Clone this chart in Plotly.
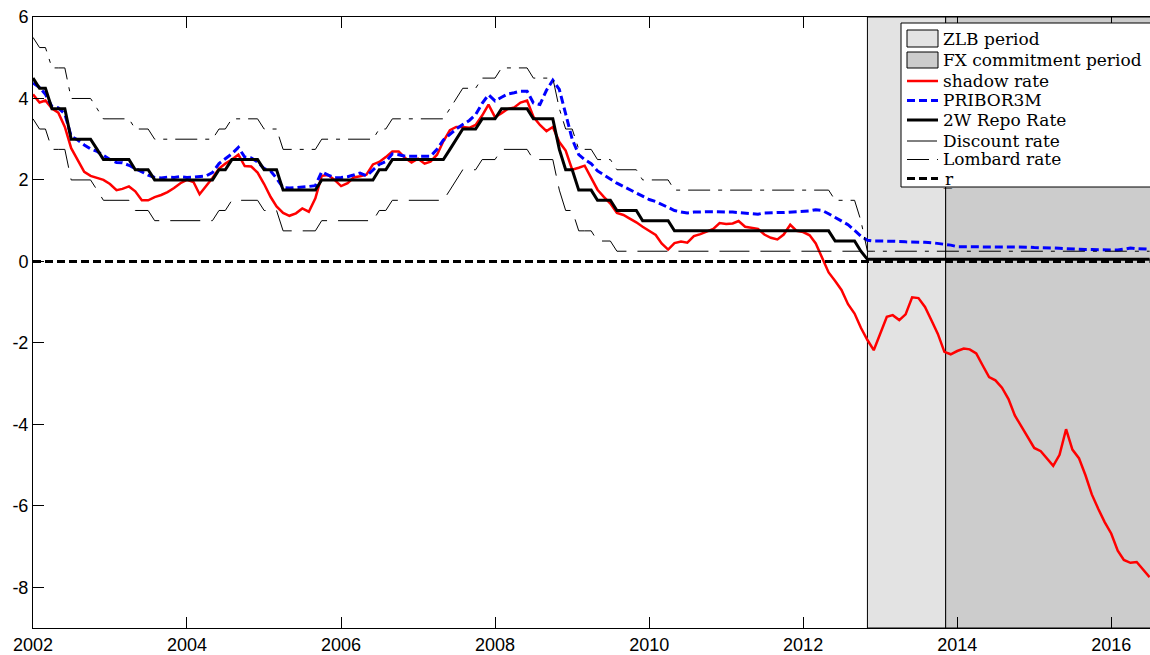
import pandas as pd
import plotly.graph_objects as go

# ---------------- data (monthly, Jan 2002 - Jul 2016) ----------------
start_month = "2002-01-01"
n_months = 175

shadow_rate = [
    4.10, 3.90, 3.95, 3.75, 3.65, 3.30, 2.78, 2.48, 2.20, 2.10, 2.05, 2.00,
    1.90, 1.75, 1.78, 1.84, 1.72, 1.50, 1.50, 1.58, 1.63, 1.70, 1.80, 1.92,
    2.00, 1.95, 1.65, 1.85, 2.05, 2.28, 2.40, 2.50, 2.62, 2.34, 2.33, 2.18,
    1.90, 1.58, 1.35, 1.19, 1.12, 1.18, 1.30, 1.22, 1.55, 2.10, 2.12, 2.00,
    1.85, 1.92, 2.06, 2.09, 2.13, 2.38, 2.44, 2.56, 2.70, 2.70, 2.54, 2.43,
    2.52, 2.40, 2.45, 2.62, 2.95, 3.22, 3.30, 3.30, 3.28, 3.35, 3.58, 3.85,
    3.54, 3.64, 3.74, 3.78, 3.90, 3.95, 3.55, 3.35, 3.20, 3.30, 2.93, 2.72,
    2.25, 2.30, 2.35, 2.05, 1.76, 1.58, 1.42, 1.19, 1.14, 1.05, 0.96, 0.85,
    0.76, 0.65, 0.44, 0.29, 0.45, 0.49, 0.46, 0.62, 0.67, 0.74, 0.80, 0.94,
    0.92, 0.93, 0.99, 0.85, 0.82, 0.80, 0.66, 0.58, 0.54, 0.66, 0.90, 0.75,
    0.72, 0.64, 0.44, 0.09, -0.27, -0.48, -0.70, -1.05, -1.28, -1.63, -1.93, -2.18,
    -1.75, -1.36, -1.32, -1.44, -1.30, -0.88, -0.90, -1.12, -1.45, -1.78, -2.22, -2.28,
    -2.20, -2.14, -2.16, -2.26, -2.55, -2.84, -2.92, -3.10, -3.38, -3.78, -4.05, -4.32,
    -4.58, -4.66, -4.84, -5.02, -4.75, -4.12, -4.62, -4.83, -5.25, -5.72, -6.08, -6.40,
    -6.68, -7.10, -7.33, -7.40, -7.38, -7.56, -7.75,
]

pribor3m = [
    4.38, 4.27, 4.10, 3.80, 3.77, 3.62, 3.07, 2.98, 2.86, 2.76, 2.70, 2.60,
    2.50, 2.43, 2.42, 2.36, 2.28, 2.20, 2.12, 2.06, 2.05, 2.07, 2.06, 2.08,
    2.06, 2.07, 2.08, 2.10, 2.18, 2.40, 2.52, 2.64, 2.80, 2.56, 2.54, 2.44,
    2.28, 2.22, 2.04, 1.81, 1.80, 1.81, 1.82, 1.84, 1.86, 2.20, 2.12, 2.05,
    2.06, 2.08, 2.12, 2.17, 2.10, 2.25, 2.38, 2.45, 2.64, 2.62, 2.58, 2.58,
    2.58, 2.57, 2.58, 2.75, 2.98, 3.12, 3.25, 3.36, 3.46, 3.60, 3.88, 4.09,
    3.94, 4.03, 4.11, 4.14, 4.18, 4.18, 3.89, 3.85, 4.20, 4.45, 4.22, 3.62,
    3.00, 2.62, 2.50, 2.40, 2.22, 2.12, 2.02, 1.92, 1.84, 1.76, 1.68, 1.59,
    1.52, 1.47, 1.40, 1.33, 1.25, 1.21, 1.19, 1.21, 1.22, 1.22, 1.22, 1.22,
    1.22, 1.21, 1.20, 1.19, 1.18, 1.16, 1.19, 1.20, 1.20, 1.20, 1.21, 1.22,
    1.23, 1.24, 1.27, 1.25, 1.17, 1.08, 0.99, 0.90, 0.76, 0.62, 0.52, 0.50,
    0.50, 0.50, 0.49, 0.49, 0.48, 0.48, 0.47, 0.47, 0.46, 0.44, 0.42, 0.40,
    0.36, 0.36, 0.36, 0.36, 0.36, 0.36, 0.36, 0.35, 0.35, 0.35, 0.35, 0.35,
    0.34, 0.34, 0.34, 0.33, 0.32, 0.31, 0.30, 0.29, 0.29, 0.29, 0.29, 0.28,
    0.28, 0.28, 0.30, 0.33, 0.31, 0.30, 0.30,
]

repo_2w = [
    4.50, 4.25, 4.25, 3.75, 3.75, 3.75, 3.00, 3.00, 3.00, 3.00, 2.75, 2.50,
    2.50, 2.50, 2.50, 2.50, 2.25, 2.25, 2.25, 2.00, 2.00, 2.00, 2.00, 2.00,
    2.00, 2.00, 2.00, 2.00, 2.00, 2.25, 2.25, 2.50, 2.50, 2.50, 2.50, 2.50,
    2.25, 2.25, 2.25, 1.75, 1.75, 1.75, 1.75, 1.75, 1.75, 2.00, 2.00, 2.00,
    2.00, 2.00, 2.00, 2.00, 2.00, 2.00, 2.25, 2.25, 2.50, 2.50, 2.50, 2.50,
    2.50, 2.50, 2.50, 2.50, 2.50, 2.75, 3.00, 3.25, 3.25, 3.25, 3.50, 3.50,
    3.50, 3.75, 3.75, 3.75, 3.75, 3.75, 3.50, 3.50, 3.50, 3.50, 2.75, 2.25,
    2.25, 1.75, 1.75, 1.75, 1.50, 1.50, 1.50, 1.25, 1.25, 1.25, 1.25, 1.00,
    1.00, 1.00, 1.00, 1.00, 0.75, 0.75, 0.75, 0.75, 0.75, 0.75, 0.75, 0.75,
    0.75, 0.75, 0.75, 0.75, 0.75, 0.75, 0.75, 0.75, 0.75, 0.75, 0.75, 0.75,
    0.75, 0.75, 0.75, 0.75, 0.75, 0.50, 0.50, 0.50, 0.50, 0.25, 0.05, 0.05,
    0.05, 0.05, 0.05, 0.05, 0.05, 0.05, 0.05, 0.05, 0.05, 0.05, 0.05, 0.05,
    0.05, 0.05, 0.05, 0.05, 0.05, 0.05, 0.05, 0.05, 0.05, 0.05, 0.05, 0.05,
    0.05, 0.05, 0.05, 0.05, 0.05, 0.05, 0.05, 0.05, 0.05, 0.05, 0.05, 0.05,
    0.05, 0.05, 0.05, 0.05, 0.05, 0.05, 0.05,
]

discount_rate = [
    3.50, 3.25, 3.25, 2.75, 2.75, 2.75, 2.00, 2.00, 2.00, 2.00, 1.75, 1.50,
    1.50, 1.50, 1.50, 1.50, 1.25, 1.25, 1.25, 1.00, 1.00, 1.00, 1.00, 1.00,
    1.00, 1.00, 1.00, 1.00, 1.00, 1.25, 1.25, 1.50, 1.50, 1.50, 1.50, 1.50,
    1.25, 1.25, 1.25, 0.75, 0.75, 0.75, 0.75, 0.75, 0.75, 1.00, 1.00, 1.00,
    1.00, 1.00, 1.00, 1.00, 1.00, 1.00, 1.25, 1.25, 1.50, 1.50, 1.50, 1.50,
    1.50, 1.50, 1.50, 1.50, 1.50, 1.75, 2.00, 2.25, 2.25, 2.25, 2.50, 2.50,
    2.50, 2.75, 2.75, 2.75, 2.75, 2.75, 2.50, 2.50, 2.50, 2.50, 1.75, 1.25,
    1.25, 0.75, 0.75, 0.75, 0.50, 0.50, 0.50, 0.25, 0.25, 0.25, 0.25, 0.25,
    0.25, 0.25, 0.25, 0.25, 0.25, 0.25, 0.25, 0.25, 0.25, 0.25, 0.25, 0.25,
    0.25, 0.25, 0.25, 0.25, 0.25, 0.25, 0.25, 0.25, 0.25, 0.25, 0.25, 0.25,
    0.25, 0.25, 0.25, 0.25, 0.25, 0.25, 0.25, 0.25, 0.25, 0.25, 0.05, 0.05,
    0.05, 0.05, 0.05, 0.05, 0.05, 0.05, 0.05, 0.05, 0.05, 0.05, 0.05, 0.05,
    0.05, 0.05, 0.05, 0.05, 0.05, 0.05, 0.05, 0.05, 0.05, 0.05, 0.05, 0.05,
    0.05, 0.05, 0.05, 0.05, 0.05, 0.05, 0.05, 0.05, 0.05, 0.05, 0.05, 0.05,
    0.05, 0.05, 0.05, 0.05, 0.05, 0.05, 0.05,
]

lombard_rate = [
    5.50, 5.25, 5.25, 4.75, 4.75, 4.75, 4.00, 4.00, 4.00, 4.00, 3.75, 3.50,
    3.50, 3.50, 3.50, 3.50, 3.25, 3.25, 3.25, 3.00, 3.00, 3.00, 3.00, 3.00,
    3.00, 3.00, 3.00, 3.00, 3.00, 3.25, 3.25, 3.50, 3.50, 3.50, 3.50, 3.50,
    3.25, 3.25, 3.25, 2.75, 2.75, 2.75, 2.75, 2.75, 2.75, 3.00, 3.00, 3.00,
    3.00, 3.00, 3.00, 3.00, 3.00, 3.00, 3.25, 3.25, 3.50, 3.50, 3.50, 3.50,
    3.50, 3.50, 3.50, 3.50, 3.50, 3.75, 4.00, 4.25, 4.25, 4.25, 4.50, 4.50,
    4.50, 4.75, 4.75, 4.75, 4.75, 4.75, 4.50, 4.50, 4.50, 4.50, 3.75, 3.25,
    3.25, 2.75, 2.75, 2.75, 2.50, 2.50, 2.50, 2.25, 2.25, 2.25, 2.25, 2.00,
    2.00, 2.00, 2.00, 2.00, 1.75, 1.75, 1.75, 1.75, 1.75, 1.75, 1.75, 1.75,
    1.75, 1.75, 1.75, 1.75, 1.75, 1.75, 1.75, 1.75, 1.75, 1.75, 1.75, 1.75,
    1.75, 1.75, 1.75, 1.75, 1.75, 1.50, 1.50, 1.50, 1.50, 1.00, 0.25, 0.25,
    0.25, 0.25, 0.25, 0.25, 0.25, 0.25, 0.25, 0.25, 0.25, 0.25, 0.25, 0.25,
    0.25, 0.25, 0.25, 0.25, 0.25, 0.25, 0.25, 0.25, 0.25, 0.25, 0.25, 0.25,
    0.25, 0.25, 0.25, 0.25, 0.25, 0.25, 0.25, 0.25, 0.25, 0.25, 0.25, 0.25,
    0.25, 0.25, 0.25, 0.25, 0.25, 0.25, 0.25,
]

lower_bound_r = [0.0] * n_months

zlb_start = "2012-11-01"
fx_start = "2013-11-07"
period_end = "2016-08-01"

x_range = ["2002-01-01", "2016-07-03"]
y_range = [-9, 6]
y_ticks = [-8, -6, -4, -2, 0, 2, 4, 6]
y_ticklabels = ["-8", "-6", "-4", "-2", "0", "2", "4", "6"]

dates = pd.date_range(start_month, periods=n_months, freq="MS")

# ---------------- layout geometry ----------------
FIG_W, FIG_H = 1150, 655
M_L, M_R, M_T, M_B = 33, 0, 17, 27
PLOT_W = FIG_W - M_L - M_R
PLOT_H = FIG_H - M_T - M_B


def px(screen_x):
    return (screen_x - M_L) / PLOT_W


def py(screen_y):
    return (FIG_H - M_B - screen_y) / PLOT_H


# ---------------- figure ----------------
fig = go.Figure()

fig.add_shape(type="rect", xref="x", yref="y", x0=zlb_start, x1=fx_start,
              y0=y_range[0], y1=y_range[1], fillcolor="#e3e3e3",
              line=dict(color="#000000", width=1), layer="below")
fig.add_shape(type="rect", xref="x", yref="y", x0=fx_start, x1=period_end,
              y0=y_range[0], y1=y_range[1], fillcolor="#cccccc",
              line=dict(color="#000000", width=1), layer="below")

series = [
    ("shadow rate", shadow_rate, dict(color="#ff0000", width=2.5)),
    ("PRIBOR3M", pribor3m, dict(color="#0000ff", width=3, dash="8px,4px")),
    ("2W Repo Rate", repo_2w, dict(color="#000000", width=3)),
    ("Discount rate", discount_rate, dict(color="#000000", width=1, dash="30px,11px")),
    ("Lombard rate", lombard_rate, dict(color="#000000", width=1, dash="22px,8px,4px,8px")),
    ("r\u0332", lower_bound_r, dict(color="#000000", width=3, dash="8px,4px")),
]
for name, vals, line in series:
    fig.add_trace(go.Scatter(x=dates, y=vals, mode="lines", name=name,
                             line=line, showlegend=False))

# ---------------- legend box (MATLAB style) ----------------
legend_font = dict(family="DejaVu Serif", size=17, color="black")
fig.add_shape(type="rect", xref="paper", yref="paper",
              x0=px(901), x1=px(1170), y0=py(187), y1=py(23),
              fillcolor="white", line=dict(color="black", width=1), layer="above")

sym_x0, sym_x1, text_x = px(907), px(938), px(941)
entry_y = [38.5, 60, 81, 100.5, 120, 141, 159.5, 178.5]

legend_boxes = [("ZLB period", "#e3e3e3", 30, 47),
                ("FX commitment period", "#cccccc", 52, 68)]
for (label, color, top, bottom), yc in zip(legend_boxes, entry_y[:2]):
    fig.add_shape(type="rect", xref="paper", yref="paper",
                  x0=sym_x0, x1=sym_x1, y0=py(bottom), y1=py(top),
                  fillcolor=color, line=dict(color="black", width=1), layer="above")
    fig.add_annotation(x=text_x, y=py(yc), xref="paper", yref="paper",
                       text=label, showarrow=False, xanchor="left", yanchor="middle",
                       font=legend_font)

for (name, _, line), yc in zip(series, entry_y[2:]):
    fig.add_shape(type="line", xref="paper", yref="paper",
                  x0=sym_x0, x1=sym_x1, y0=py(yc), y1=py(yc),
                  line=line, layer="above")
    fig.add_annotation(x=text_x, y=py(yc), xref="paper", yref="paper",
                       text=name, showarrow=False, xanchor="left", yanchor="middle",
                       font=legend_font)

fig.update_layout(
    width=FIG_W, height=FIG_H,
    margin=dict(l=M_L, r=M_R, t=M_T, b=M_B),
    paper_bgcolor="white", plot_bgcolor="white",
    showlegend=False,
)
fig.update_xaxes(
    type="date", range=x_range, tick0="2002-01-01", dtick="M24", tickformat="%Y",
    ticks="inside", ticklen=11, tickcolor="black", showline=True, linecolor="black",
    linewidth=1, mirror="allticks", showgrid=False, zeroline=False,
    ticklabeloverflow="allow",
    tickfont=dict(family="Liberation Sans", size=18, color="black"), automargin=False,
)
fig.update_yaxes(
    range=y_range, tickvals=y_ticks, ticktext=y_ticklabels,
    ticks="inside", ticklen=11, tickcolor="black", showline=True, linecolor="black",
    linewidth=1, mirror=False, showgrid=False, zeroline=False,
    ticklabeloverflow="allow",
    tickfont=dict(family="Liberation Sans", size=18, color="black"), automargin=False,
)

# remove the browser's default 8px body margin so the figure fills the window
fig.write_html(
    "out.html",
    config={"displayModeBar": False},
    post_script="document.body.style.margin='0';document.body.style.overflow='hidden';",
)
